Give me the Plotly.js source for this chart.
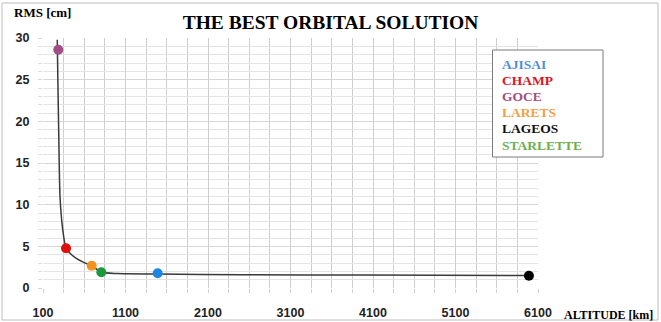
<!DOCTYPE html>
<html>
<head>
<meta charset="utf-8">
<script src="https://cdn.plot.ly/plotly-3.0.1.min.js"></script>
<style>html,body{margin:0;padding:0;background:#fff;}#chart{width:661px;height:322px;}</style>
</head>
<body>
<div id="chart"></div>
<script>
// Satellites (legend order)
const satellites = ["AJISAI", "CHAMP", "GOCE", "LARETS", "LAGEOS", "STARLETTE"];
const satAltitude = [1490, 379, 285, 690, 5990, 807];      // km
const satRms = [1.76, 4.76, 28.6, 2.68, 1.48, 1.88];        // cm
const markerColors = ["#1c86e0", "#e00d0d", "#a24e84", "#f5921e", "#000000", "#1a9a3c"];
const legendColors = ["#4f8fd8", "#e0141e", "#a24e7e", "#f5a040", "#111111", "#6cb04e"];

// Fitted curve
const curveAlt = [273, 280, 290, 306, 339, 379, 440, 508, 600, 690, 807, 1000, 1490, 2500, 4000, 5990];
const curveRms = [29.8, 25, 19, 11, 7, 4.76, 4.05, 3.52, 3.05, 2.68, 1.88, 1.74, 1.68, 1.6, 1.55, 1.5];

// Axis tick labels
const xTicks = [100, 1100, 2100, 3100, 4100, 5100, 6100];
const yTicks = [0, 5, 10, 15, 20, 25, 30];

const traces = [
  {
    x: curveAlt, y: curveRms, type: "scatter", mode: "lines",
    line: {color: "#3a3a3a", width: 1.5, shape: "spline", smoothing: 0.6},
    showlegend: false, hoverinfo: "skip"
  }
];
satellites.forEach((s, i) => {
  traces.push({
    x: [satAltitude[i]], y: [satRms[i]], type: "scatter", mode: "markers",
    name: s, marker: {color: markerColors[i], size: 10}, showlegend: false
  });
});

const serifBold = "Liberation Serif";
const annotations = [
  {text: "<b>RMS [cm]</b>", xref: "paper", yref: "paper", x: -0.062, y: 1.065,
   xanchor: "left", yanchor: "bottom", showarrow: false,
   font: {family: serifBold, size: 13, color: "#000"}},
  {text: "<b>ALTITUDE [km]</b>", xref: "paper", yref: "paper", x: (655 - 43) / 495, y: (288 - 315) / 250,
   xanchor: "right", yanchor: "middle", showarrow: false,
   font: {family: serifBold, size: 12, color: "#000"}}
];
satellites.forEach((s, i) => {
  annotations.push({
    text: "<b>" + s + "</b>", xref: "paper", yref: "paper",
    x: (500 - 43) / 495, y: (288 - (64 + i * 16.2)) / 250,
    xanchor: "left", yanchor: "middle", showarrow: false,
    font: {family: serifBold, size: 13.5, color: legendColors[i]}
  });
});

const layout = {
  width: 661, height: 322,
  margin: {l: 43, r: 123, t: 38, b: 34},
  paper_bgcolor: "#ffffff", plot_bgcolor: "#ffffff",
  title: {text: "<b>THE BEST ORBITAL SOLUTION</b>", x: 0.5, xanchor: "center",
          y: 0.93, yanchor: "middle",
          font: {family: serifBold, size: 19.5, color: "#000"}},
  xaxis: {
    range: [100, 6100], tickvals: xTicks, ticktext: xTicks.map(v => "<b>" + v + "</b>"),
    showgrid: true, gridcolor: "#cfcfcf", gridwidth: 1,
    ticks: "outside", ticklen: 4, tickcolor: "#cfcfcf",
    minor: {dtick: 250, tick0: 100, showgrid: true, gridcolor: "#cfcfcf", ticks: "outside", ticklen: 4, tickcolor: "#cfcfcf"},
    zeroline: false, showline: false,
    tickfont: {family: "Liberation Sans", size: 12.5, color: "#222"},
    ticklabelstandoff: 9
  },
  yaxis: {
    range: [0, 30], tickvals: yTicks, ticktext: yTicks.map(v => "<b>" + v + "</b>"),
    showgrid: true, gridcolor: "#d6d6d6", gridwidth: 1,
    ticks: "outside", ticklen: 4, tickcolor: "#d6d6d6",
    minor: {dtick: 1, tick0: 0, showgrid: true, gridcolor: "#e4e4e4", ticks: "outside", ticklen: 4, tickcolor: "#e0e0e0"},
    zeroline: false, showline: false,
    tickfont: {family: "Liberation Sans", size: 12.5, color: "#222"},
    ticklabelstandoff: 6
  },
  shapes: [
    {type: "rect", xref: "paper", yref: "paper",
     x0: (492.5 - 43) / 495, x1: (603 - 43) / 495,
     y0: (288 - 157) / 250, y1: (288 - 50) / 250,
     line: {color: "#7a7a7a", width: 1}, fillcolor: "#ffffff", layer: "above"},
    {type: "rect", xref: "paper", yref: "paper",
     x0: -41 / 495, x1: (658 - 43) / 495,
     y0: -32 / 250, y1: (288 - 3) / 250,
     line: {color: "#bdbdbd", width: 1}, fillcolor: "rgba(0,0,0,0)", layer: "below"}
  ],
  annotations: annotations,
  showlegend: false
};

Plotly.newPlot("chart", traces, layout, {displayModeBar: false, staticPlot: true});
</script>
</body>
</html>
